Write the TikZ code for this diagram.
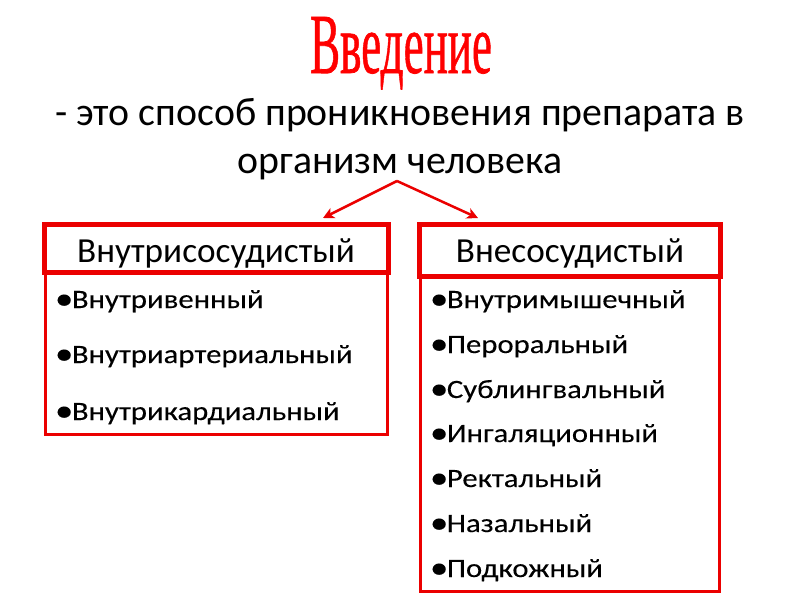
\documentclass[tikz,border=0pt]{standalone}
\usepackage{fontspec}
\setmainfont{Carlito}
\newfontfamily\titlefont[FakeBold=0.9]{Liberation Serif}
\newfontfamily\itemfont[FakeStretch=1.16,FakeBold=0.15]{Carlito}
\newcommand\mybul{\raisebox{-1.1pt}{\scalebox{1.2}{•}}\kern-1.5pt}
\usetikzlibrary{arrows.meta}
\definecolor{myred}{RGB}{235,0,0}
\begin{document}
\begin{tikzpicture}[x=1pt,y=-1pt,
  txt/.style={inner sep=0pt,outer sep=0pt},
  item/.style={txt,anchor=base west,font=\itemfont\fontsize{26.5}{30}\selectfont},
  headbox/.style={draw=myred,line width=5pt,fill=white},
  listbox/.style={draw=myred,line width=3pt},
  headtxt/.style={txt,anchor=base,font=\fontsize{35.2}{40}\selectfont},
  subtxt/.style={txt,anchor=base,font=\fontsize{39.8}{44}\selectfont},
  conn/.style={draw=myred,line width=2.5pt,-{Stealth[length=11pt,width=11pt,inset=3pt]}}
]
\useasboundingbox[fill=white] (0,0) rectangle (800,600);
% title
\node[txt,anchor=base west,text=red] (title) at (310,73)
  {\resizebox{182pt}{56pt}{\titlefont Введение}};
\node[subtxt] (sub1) at (400,125) {- это способ проникновения препарата в};
\node[subtxt] (sub2) at (400,173) {организм человека};
% boxes
\draw[listbox] (45,272.5) rectangle (387,434);
\draw[listbox] (420.5,276) rectangle (719,591);
\draw[headbox] (44,224) rectangle (388,272.5);
\draw[headbox] (419,224) rectangle (720.5,276);
\node[headtxt] (h1) at (216,262) {Внутрисосудистый};
\node[headtxt] (h2) at (570,262) {Внесосудистый};
% arrows
\coordinate (apex) at (397,181);
\coordinate (tl) at (323,218);
\coordinate (tr) at (478,218);
\draw[conn] (apex) -- (tl);
\draw[conn] (apex) -- (tr);
% left items
\node[item] (l1) at (55,308) {\mybul Внутривенный};
\node[item] (l2) at (55,363) {\mybul Внутриартериальный};
\node[item] (l3) at (55,420) {\mybul Внутрикардиальный};
% right items
\node[item] (r1) at (430,308) {\mybul Внутримышечный};
\node[item] (r2) at (430,353) {\mybul Пероральный};
\node[item] (r3) at (430,398) {\mybul Сублингвальный};
\node[item] (r4) at (430,442) {\mybul Ингаляционный};
\node[item] (r5) at (430,487) {\mybul Ректальный};
\node[item] (r6) at (430,532) {\mybul Назальный};
\node[item] (r7) at (430,577) {\mybul Подкожный};
\end{tikzpicture}
\end{document}
